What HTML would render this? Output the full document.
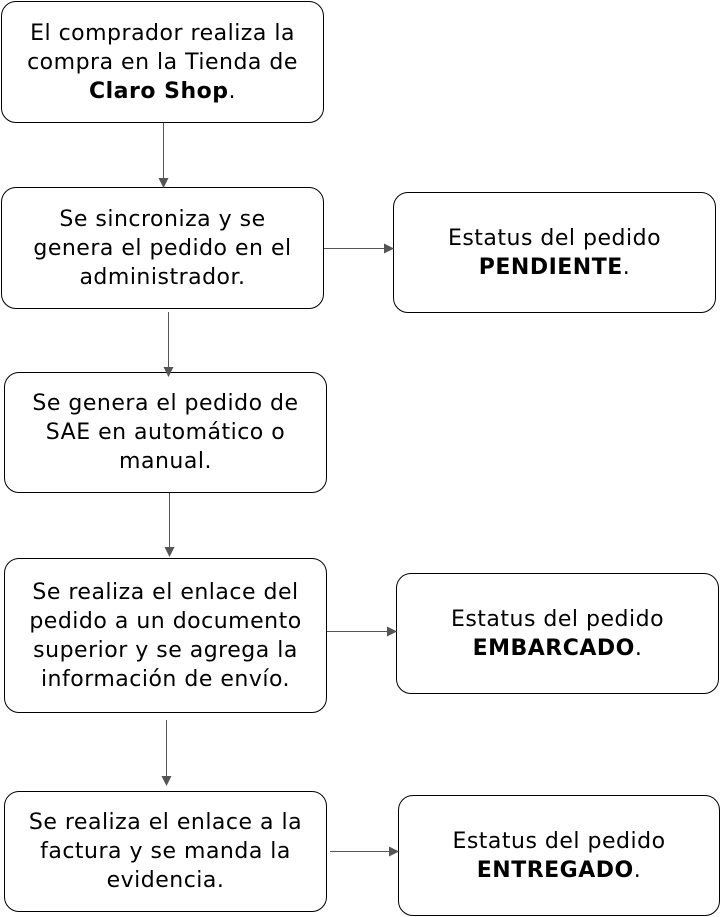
<!DOCTYPE html>
<html><head><meta charset="utf-8"><style>
body{margin:0;width:720px;height:917px;background:#fff;position:relative;font-family:"DejaVu Sans","Liberation Sans",sans-serif;}
.b{position:absolute;box-sizing:border-box;border:1.6px solid #000;border-radius:15px;display:flex;align-items:center;justify-content:center;text-align:center;font-size:22px;line-height:29px;letter-spacing:0.5px;color:#000;padding:0 8px;}
.b>div{width:100%}
svg{position:absolute;left:0;top:0}
</style></head><body>
<div class="b" style="left:1px;top:1px;width:323px;height:122px"><div>El comprador realiza la compra en la Tienda de <b>Claro Shop</b>.</div></div>
<div class="b" style="left:1px;top:187px;width:323px;height:122px"><div>Se sincroniza y se<br>genera el pedido en el administrador.</div></div>
<div class="b" style="left:393px;top:192px;width:323px;height:121px"><div>Estatus del pedido<br><b>PENDIENTE</b>.</div></div>
<div class="b" style="left:4px;top:372px;width:323px;height:121px"><div>Se genera el pedido de SAE en automático o manual.</div></div>
<div class="b" style="left:4px;top:558px;width:323px;height:155px"><div>Se realiza el enlace del pedido a un documento superior y se agrega la información de envío.</div></div>
<div class="b" style="left:396px;top:573px;width:323px;height:121px"><div>Estatus del pedido<br><b>EMBARCADO</b>.</div></div>
<div class="b" style="left:4px;top:791px;width:323px;height:121px"><div>Se realiza el enlace a la factura y se manda la evidencia.</div></div>
<div class="b" style="left:398px;top:795px;width:322px;height:121px"><div>Estatus del pedido<br><b>ENTREGADO</b>.</div></div>
<svg width="720" height="917">
<defs><marker id="a" markerWidth="10" markerHeight="10" refX="9" refY="5" orient="auto" markerUnits="userSpaceOnUse"><path d="M0,0 L10,5 L0,10 z" fill="#555"/></marker></defs>
<g stroke="#555" stroke-width="1" marker-end="url(#a)">
<line x1="163.5" y1="123" x2="163.5" y2="187"/>
<line x1="324" y1="248.5" x2="393" y2="248.5"/>
<line x1="168.5" y1="312" x2="168.5" y2="376"/>
<line x1="169.5" y1="493" x2="169.5" y2="556"/>
<line x1="327" y1="631.5" x2="396" y2="631.5"/>
<line x1="166.5" y1="720" x2="166.5" y2="785"/>
<line x1="330" y1="851.5" x2="398" y2="851.5"/>
</g></svg>
</body></html>
